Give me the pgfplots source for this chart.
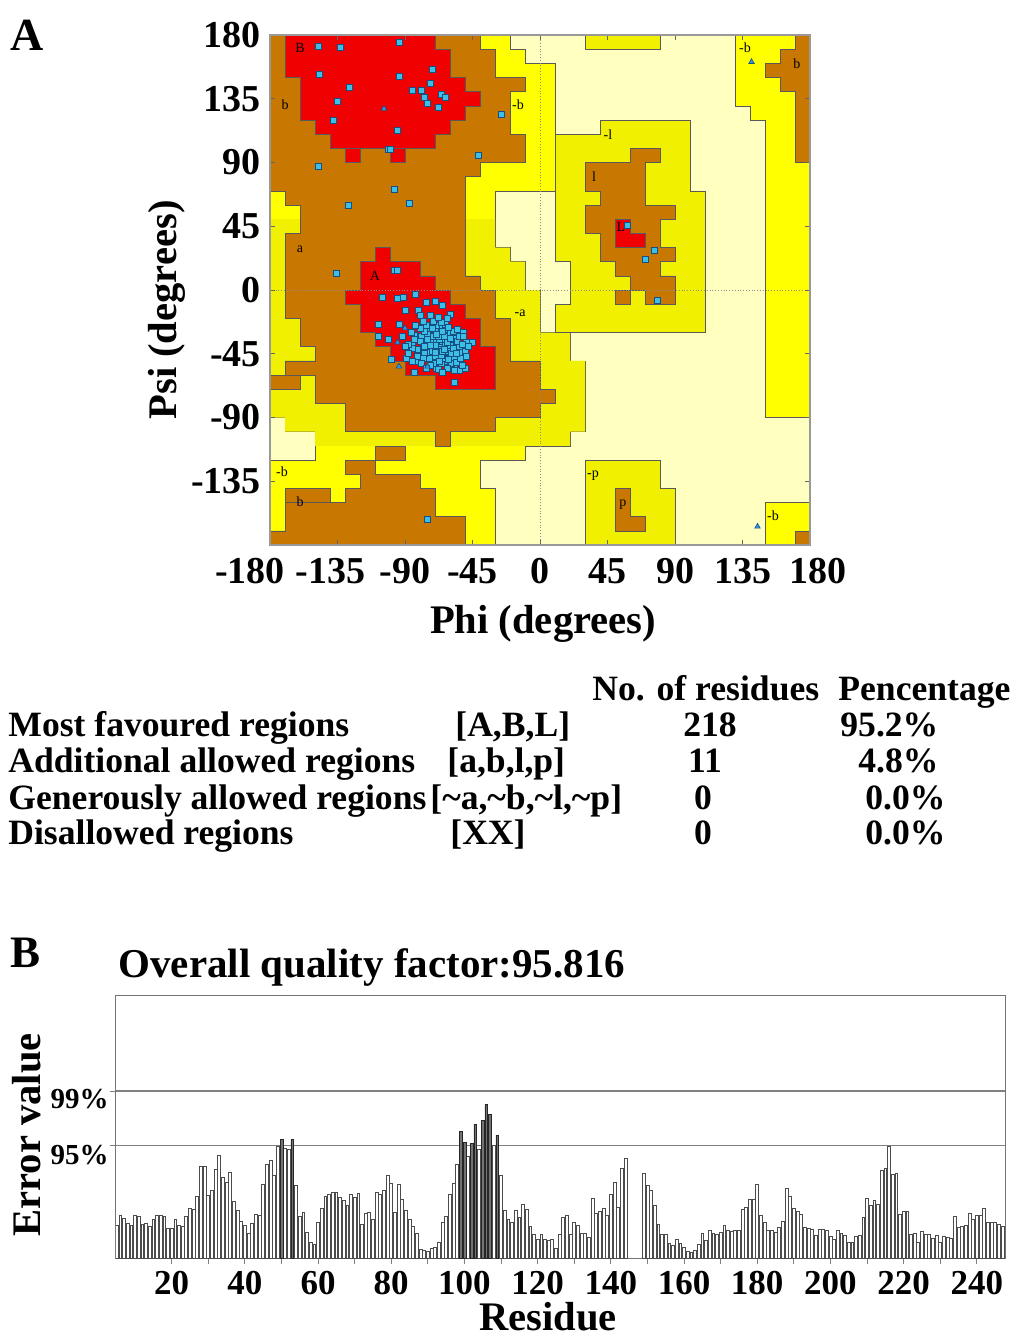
\documentclass[border=0pt]{standalone}
\usepackage{fontspec}
\setmainfont{Liberation Serif}
\usepackage{pgfplots}
\pgfplotsset{compat=1.18}
\definecolor{rlight}{RGB}{255,255,192}
\definecolor{ryel}{RGB}{255,255,0}
\definecolor{rgrn}{RGB}{240,240,0}
\definecolor{rbrn}{RGB}{200,120,0}
\definecolor{rred}{RGB}{240,0,0}
\definecolor{ptfill}{RGB}{60,190,230}
\definecolor{ptedge}{RGB}{20,80,130}
\newcommand{\bfs}[1]{\fontsize{#1}{#1}\selectfont\bfseries}
\pgfplotsset{reg/.style={draw=black!65, line width=0.3pt}}
\tikzset{rlab/.style={font=\fontsize{7}{7}\selectfont, inner sep=0pt}}

\begin{document}
\begin{tikzpicture}
\useasboundingbox (0,0) rectangle (506.5pt,-670pt);

% ---------------- A: Ramachandran plot ----------------
\begin{axis}[
  at={(135pt,-272.5pt)}, anchor=south west,
  width=270pt, height=255pt, scale only axis,
  xmin=-180, xmax=180, ymin=-180, ymax=180,
  axis background/.style={fill=rlight},
  axis line style={draw=black!40, line width=0.6pt},
  xtick={-180,-135,...,180},
  ytick={-135,-90,...,180},
  xticklabels={\hspace*{-20pt}-180,\hspace*{-7pt}-135,-90,-45,0,45,90,135,180\hspace*{-8pt}},
  yticklabels={-135,-90,-45,0,45,90,135,180},
  tick align=inside, major tick length=2.5pt,
  tick style={draw=black!60, line width=0.5pt},
  ticklabel style={font=\bfs{19}},
  xticklabel style={yshift=-3pt},
  yticklabel style={xshift=-1pt},
  axis on top,
]
% generously allowed
\addplot[reg, fill=ryel] coordinates {(-180,180) (-20,180) (-20,170) (-10,170) (-10,160) (10,160) (10,70) (-30,70) (-30,30) (-20,30) (-20,20) (-10,20) (-10,0) (0,0) (0,-30) (20,-30) (20,-50) (30,-50) (30,-100) (20,-100) (20,-110) (-10,-110) (-10,-120) (-40,-120) (-40,-140) (-30,-140) (-30,-180) (-180,-180) (-180,-120) (-150,-120) (-150,-100) (-170,-100) (-170,-90) (-180,-90)} -- cycle;
\addplot[fill=rgrn, draw=none] coordinates {(-180,50) (-30,50) (-30,30) (-20,30) (-20,20) (-10,20) (-10,0) (0,0) (0,-30) (20,-30) (20,-50) (30,-50) (30,-100) (20,-100) (20,-110) (-150,-110) (-150,-100) (-170,-100) (-170,-90) (-180,-90)} -- cycle;
\addplot[reg, fill=ryel] coordinates {(130,180) (180,180) (180,-90) (150,-90) (150,120) (140,120) (140,130) (130,130)} -- cycle;
\addplot[reg, fill=ryel] coordinates {(150,-150) (180,-150) (180,-180) (150,-180)} -- cycle;
\addplot[reg, fill=rgrn] coordinates {(30,180) (80,180) (80,170) (30,170)} -- cycle;
\addplot[reg, fill=rgrn] coordinates {(40,120) (100,120) (100,70) (110,70) (110,-30) (10,-30) (10,-10) (20,-10) (20,20) (10,20) (10,110) (40,110)} -- cycle;
\addplot[reg, fill=rgrn] coordinates {(30,-120) (80,-120) (80,-140) (90,-140) (90,-180) (30,-180)} -- cycle;
% additional allowed
\addplot[reg, fill=rbrn] coordinates {(-180,180) (-40,180) (-40,170) (-30,170) (-30,150) (-10,150) (-10,140) (-20,140) (-20,110) (-10,110) (-10,90) (-40,90) (-40,80) (-50,80) (-50,10) (-40,10) (-40,0) (-30,0) (-30,-20) (-20,-20) (-20,-50) (0,-50) (0,-70) (10,-70) (10,-80) (0,-80) (0,-90) (-30,-90) (-30,-100) (-60,-100) (-60,-110) (-70,-110) (-70,-100) (-130,-100) (-130,-80) (-150,-80) (-150,-60) (-170,-60) (-170,-50) (-150,-50) (-150,-40) (-160,-40) (-160,-20) (-170,-20) (-170,40) (-160,40) (-160,60) (-170,60) (-170,70) (-180,70)} -- cycle;
\addplot[reg, fill=rbrn] coordinates {(-180,-70) (-160,-70) (-160,-60) (-180,-60)} -- cycle;
\addplot[reg, fill=rbrn] coordinates {(-130,-120) (-110,-120) (-110,-130) (-80,-130) (-80,-140) (-70,-140) (-70,-160) (-50,-160) (-50,-180) (-180,-180) (-180,-170) (-170,-170) (-170,-150) (-130,-150) (-130,-140) (-120,-140) (-120,-130) (-130,-130)} -- cycle;
\addplot[reg, fill=rbrn] coordinates {(-110,-120) (-90,-120) (-90,-110) (-110,-110)} -- cycle;
\addplot[reg, fill=rbrn] coordinates {(-170,-150) (-140,-150) (-140,-140) (-170,-140)} -- cycle;
\addplot[reg, fill=rbrn] coordinates {(170,180) (180,180) (180,90) (170,90) (170,140) (160,140) (160,150) (150,150) (150,160) (160,160) (160,170) (170,170)} -- cycle;
\addplot[reg, fill=rbrn] coordinates {(170,-170) (180,-170) (180,-180) (170,-180)} -- cycle;
\addplot[reg, fill=rbrn] coordinates {(60,100) (80,100) (80,90) (70,90) (70,60) (90,60) (90,50) (80,50) (80,30) (90,30) (90,20) (80,20) (80,10) (90,10) (90,-10) (70,-10) (70,0) (60,0) (60,10) (50,10) (50,20) (40,20) (40,40) (30,40) (30,60) (40,60) (40,70) (30,70) (30,90) (60,90)} -- cycle;
\addplot[reg, fill=rbrn] coordinates {(50,-10) (60,-10) (60,0) (50,0)} -- cycle;
\addplot[reg, fill=rbrn] coordinates {(50,-140) (60,-140) (60,-160) (70,-160) (70,-170) (50,-170)} -- cycle;
% most favoured
\addplot[reg, fill=rred] coordinates {(-170,180) (-70,180) (-70,170) (-60,170) (-60,150) (-50,150) (-50,140) (-40,140) (-40,130) (-50,130) (-50,120) (-60,120) (-60,110) (-70,110) (-70,100) (-140,100) (-140,110) (-150,110) (-150,120) (-160,120) (-160,150) (-170,150)} -- cycle;
\addplot[reg, fill=rred] coordinates {(-130,90) (-120,90) (-120,100) (-130,100)} -- cycle;
\addplot[reg, fill=rred] coordinates {(-100,90) (-90,90) (-90,100) (-100,100)} -- cycle;
\addplot[reg, fill=rred] coordinates {(-110,30) (-100,30) (-100,20) (-80,20) (-80,10) (-70,10) (-70,0) (-60,0) (-60,-10) (-50,-10) (-50,-20) (-40,-20) (-40,-40) (-30,-40) (-30,-70) (-70,-70) (-70,-60) (-90,-60) (-90,-50) (-100,-50) (-100,-40) (-110,-40) (-110,-30) (-120,-30) (-120,-10) (-130,-10) (-130,0) (-120,0) (-120,20) (-110,20)} -- cycle;
\addplot[reg, fill=rred] coordinates {(50,50) (60,50) (60,40) (70,40) (70,30) (50,30)} -- cycle;

\draw[black!45, densely dotted, line width=0.4pt] (axis cs:0,-180) -- (axis cs:0,180);
\draw[black!45, densely dotted, line width=0.4pt] (axis cs:-180,0) -- (axis cs:180,0);

\node[rlab] at (axis cs:-160,170.8) {B};
\node[rlab] at (axis cs:-170,130.6) {b};
\node[rlab] at (axis cs:-160,29) {a};
\node[rlab] at (axis cs:-110,9.9) {A};
\node[rlab] at (axis cs:-14.7,130.6) {-b};
\node[rlab] at (axis cs:-13.3,-16.2) {-a};
\node[rlab] at (axis cs:45.3,110) {-l};
\node[rlab] at (axis cs:36,79.8) {l};
\node[rlab] at (axis cs:54,44.5) {L};
\node[rlab] at (axis cs:136.7,170.8) {-b};
\node[rlab] at (axis cs:171.3,159.5) {b};
\node[rlab] at (axis cs:35.3,-131.3) {-p};
\node[rlab] at (axis cs:55.3,-151.8) {p};
\node[rlab] at (axis cs:-172,-128.5) {-b};
\node[rlab] at (axis cs:-160,-149.6) {b};
\node[rlab] at (axis cs:155.3,-159.5) {-b};

% residues
\addplot[only marks, mark=square*, mark size=1.5pt, mark options={fill=ptfill, draw=ptedge, line width=0.3pt}] coordinates {
(-148,172) (-133,171) (-94,175) (-147,152) (-94,151) (-72,156) (-127,143) (-73,146) (-85,141) (-79,141)
(-77,136) (-75,132) (-66,138) (-63,136) (-68,129) (-135,133) (-138,120) (-95,113) (-26,124) (-101,99)
(-100,99) (-41,95) (-148,87) (-97,71) (-128,60) (-87,61) (-136,12) (-97,14) (-95,14) (-75,-162)
(58,46) (76,28) (70,22) (78,-7)
(-105,-5) (-95,-6) (-91,-5) (-83,-3) (-70,-8) (-76,-9) (-90,-14) (-81,-14) (-65,-11) (-108,-24)
(-94,-24) (-60,-17) (-65,-23) (-57,-31) (-51,-30) (-45,-37) (-49,-37) (-108,-33) (-101,-35) (-99,-49)
(-89,-48) (-81,-50) (-84,-58) (-73,-49) (-69,-55) (-62,-54) (-57,-55) (-54,-57) (-50,-55) (-50,-43)
(-57,-65) (-85,-39) (-84,-32)
(-62,-41) (-64,-39) (-66,-42) (-60,-43) (-63,-37) (-68,-38) (-65,-45) (-61,-38) (-67,-40) (-59,-40)
(-64,-44) (-62,-46) (-66,-36) (-70,-41) (-58,-44) (-63,-42) (-65,-40) (-61,-35) (-69,-44) (-60,-47)
(-72,-38) (-67,-47) (-63,-50) (-57,-39) (-66,-33) (-70,-35) (-64,-31) (-59,-36) (-62,-33) (-68,-30)
(-74,-41) (-71,-45) (-56,-42) (-55,-46) (-60,-50) (-65,-48) (-69,-50) (-73,-35) (-75,-44) (-58,-33)
(-62,-28) (-66,-27) (-70,-29) (-72,-31) (-76,-37) (-78,-40) (-64,-35) (-67,-43) (-61,-44) (-63,-47)
(-57,-48) (-54,-40) (-53,-44) (-59,-52) (-66,-52) (-71,-52) (-74,-48) (-77,-45) (-79,-33) (-74,-28)
(-69,-25) (-63,-24) (-60,-30) (-57,-34) (-55,-36) (-52,-38) (-67,-38) (-65,-36) (-63,-39) (-61,-41)
(-68,-42) (-70,-39) (-72,-43) (-64,-48) (-62,-43) (-60,-39) (-66,-46) (-59,-45) (-65,-43) (-67,-35)
(-71,-33) (-75,-31) (-77,-29) (-80,-36) (-82,-42) (-78,-48) (-73,-53) (-68,-56) (-62,-55) (-56,-51)
(-53,-48) (-50,-43) (-54,-33) (-58,-29) (-61,-26) (-66,-23) (-71,-22) (-76,-25) (-80,-27) (-84,-35)
(-85,-41) (-82,-47) (-79,-52) (-70,-47) (-64,-42) (-62,-37) (-68,-33) (-73,-39) (-58,-41) (-56,-45)
(-64,-33) (-60,-34) (-65,-29) (-69,-31) (-72,-27) (-75,-35) (-77,-40) (-61,-49) (-67,-50) (-70,-44)
(-88,-38) (-86,-30) (-83,-25) (-78,-22) (-73,-18) (-68,-19) (-88,-45) (-85,-50) (-76,-55) (-65,-58)
(-57,-57) (-52,-53) (-49,-47) (-48,-40) (-51,-33) (-55,-28) (-62,-20) (-80,-18) (-90,-40) (-92,-33)
};
\addplot[only marks, mark=triangle*, mark size=1.6pt, mark options={fill=ptfill!80!blue, draw=ptedge, line width=0.3pt}] coordinates {
(-104,128) (141,161) (145,-167) (-90,-27) (-95,-37) (-94,-54) (-75,-54)
};
\end{axis}

% ---------------- B: ERRAT plot ----------------
\begin{axis}[
  at={(58pt,-629pt)}, anchor=south west,
  width=444.5pt, height=131.5pt, scale only axis,
  xmin=4.8, xmax=247.7, ymin=0, ymax=263,
  ybar, bar width=0.78,
  axis line style={draw=black!55, line width=0.5pt},
  xtick={20,40,...,240},
  xticklabels={20,40,60,80,100,120,140,160,180,200,220,240},
  minor x tick num=1,
  ytick={112.5,167}, yticklabels={{},{}},
  xtick pos=bottom, ytick pos=left,
  ymajorgrids, grid style={draw=black!50, line width=0.9pt},
  tick align=outside, major tick length=3pt, minor tick length=3pt,
  tick style={draw=black!50, line width=0.4pt},
  xticklabel style={font=\bfs{17.5}},
]
\addplot[fill=white, draw=black!70, line width=0.35pt, bar shift=0pt] coordinates {
(5,32.7) (6,42.3) (7,40) (8,35) (9,32.7) (10,42.7) (11,41.7) (12,33.3) (13,35) (14,31.7)
(15,39) (16,42.3) (17,42.3) (18,41.7) (19,29.3) (20,29.3) (21,38.3) (22,32.7) (23,31.7) (24,41.7)
(25,49.3) (26,48.3) (27,61.7) (28,91.7) (29,91.7) (30,63) (31,67.3) (32,88.3) (33,102.7) (34,80.7)
(35,76) (36,86) (37,56.7) (38,47.3) (39,36.7) (40,32.7) (41,25) (42,35) (43,44) (44,42.3)
(45,73.3) (46,94) (47,97.7) (48,82.7) (49,111.7) (51,110) (52,109) (54,72.7) (55,41.7) (56,46)
(57,26) (58,15.7) (59,13.3) (60,36) (61,49.3) (62,61.7) (63,64) (64,66) (65,65.7) (66,60.7)
(67,58) (68,52.7) (69,64) (70,60.7) (71,64.7) (72,34) (73,45) (74,45.7) (75,39) (76,65.7)
(77,63.3) (78,67.7) (79,82.3) (80,75) (81,45.7) (82,73.3) (83,59) (84,47.7) (85,39) (86,31.7)
(87,25) (88,9) (89,7.7) (90,6.7) (91,10) (92,10.7) (93,15.7) (94,36) (95,41.7) (96,63.3)
(97,75) (98,93.3) (101,102) (104,109) (108,113) (110,83) (111,48) (112,39) (113,36) (114,47.7)
(115,41) (116,53.3) (117,48.3) (118,31.7) (119,24) (120,19) (121,24) (122,19) (123,17.3) (124,18.3)
(125,10) (126,24) (127,41) (128,42.7) (129,24) (130,35.7) (131,32.3) (132,24.3) (133,24.3) (134,20.7)
(135,60) (136,44.3) (137,46.7) (138,50) (139,42.3) (140,63.3) (141,75.7) (142,51) (143,90) (144,99.3)
(149,84.7) (150,73) (151,68) (152,53) (153,33.3) (154,23.3) (155,23.3) (156,15) (157,13) (158,18.3)
(159,15) (160,10.7) (161,6.3) (162,5.7) (163,7.3) (164,14) (165,25) (166,17.3) (167,28) (168,24.7)
(169,24) (170,25.7) (171,32.3) (172,27.3) (173,26.3) (174,27.3) (175,27.3) (176,49) (177,50.7) (178,59)
(179,59) (180,73.7) (181,43) (182,35.7) (183,27.3) (184,27.3) (185,25.7) (186,30.7) (187,36.3) (188,69.7)
(189,61.7) (190,49.7) (191,46.3) (192,44) (193,30.7) (194,29.7) (195,29) (196,23) (197,28.3) (198,29)
(199,28) (200,22) (201,19) (202,28) (203,25) (204,22.7) (205,16) (206,15.7) (207,21.7) (208,22.3)
(209,41) (210,59.3) (211,52.7) (212,57.3) (213,53.3) (214,87.7) (215,90) (216,111.7) (217,84) (218,85)
(219,44) (220,46.7) (221,46.7) (222,24) (223,24.3) (224,15.7) (225,26.7) (226,24) (227,24) (228,19.3)
(229,22.3) (230,16) (231,21.7) (232,20.7) (233,20) (234,41.7) (235,31) (236,31.7) (237,32.7) (238,45)
(239,39) (240,43) (241,42.3) (242,49.3) (243,36) (244,36) (245,36) (246,34) (247,31.7)
};
\addplot[fill=black!55, draw=black!85, line width=0.35pt, bar shift=0pt] coordinates {
(50,119) (53,119) (99,127) (100,116) (102,115) (103,134) (105,138) (106,154) (107,144) (109,123)
};
\end{axis}

% ---------------- text ----------------
\begin{scope}[x=0.5pt,y=-0.5pt]
\node[anchor=base west, font=\bfs{23}, inner sep=0pt] at (10,50) {A};
\node[anchor=base, rotate=90, font=\bfs{20.3}, inner sep=0pt] at (176,310) {Psi (degrees)};
\node[anchor=base, font=\bfs{20.3}, inner sep=0pt] at (543,633) {Phi (degrees)};

\node[anchor=base west, font=\bfs{17.8}, inner sep=0pt] at (592,700) {No. of residues};
\node[anchor=base west, font=\bfs{17.8}, inner sep=0pt] at (838,700) {Pencentage};
\node[anchor=base west, font=\bfs{17.8}, inner sep=0pt] at (8,736) {Most favoured regions};
\node[anchor=base west, font=\bfs{17.8}, inner sep=0pt] at (455,736) {[A,B,L]};
\node[anchor=base, font=\bfs{17.8}, inner sep=0pt] at (710,736) {218};
\node[anchor=base west, font=\bfs{17.8}, inner sep=0pt] at (840,736) {95.2\%};
\node[anchor=base west, font=\bfs{17.8}, inner sep=0pt] at (8,772) {Additional allowed regions};
\node[anchor=base west, font=\bfs{17.8}, inner sep=0pt] at (447,772) {[a,b,l,p]};
\node[anchor=base, font=\bfs{17.8}, inner sep=0pt] at (705,772) {11};
\node[anchor=base west, font=\bfs{17.8}, inner sep=0pt] at (858,772) {4.8\%};
\node[anchor=base west, font=\bfs{17.8}, inner sep=0pt] at (8,809) {Generously allowed regions};
\node[anchor=base west, font=\bfs{17.8}, inner sep=0pt] at (430,809) {[\textasciitilde a,\textasciitilde b,\textasciitilde l,\textasciitilde p]};
\node[anchor=base, font=\bfs{17.8}, inner sep=0pt] at (703,809) {0};
\node[anchor=base west, font=\bfs{17.8}, inner sep=0pt] at (865,809) {0.0\%};
\node[anchor=base west, font=\bfs{17.8}, inner sep=0pt] at (8,844) {Disallowed regions};
\node[anchor=base west, font=\bfs{17.8}, inner sep=0pt] at (450,844) {[XX]};
\node[anchor=base, font=\bfs{17.8}, inner sep=0pt] at (703,844) {0};
\node[anchor=base west, font=\bfs{17.8}, inner sep=0pt] at (865,844) {0.0\%};

\node[anchor=base west, font=\bfs{22.5}, inner sep=0pt] at (10,967) {B};
\node[anchor=base west, font=\bfs{20.5}, inner sep=0pt] at (118,977) {Overall quality factor:95.816};
\node[anchor=base, rotate=90, font=\bfs{20.3}, inner sep=0pt] at (40,1135) {Error value};
\node[anchor=base east, font=\bfs{14.5}, inner sep=0pt] at (109,1108) {99\%};
\node[anchor=base east, font=\bfs{14.5}, inner sep=0pt] at (109,1164) {95\%};
\node[anchor=base, font=\bfs{20.3}, inner sep=0pt] at (548,1330) {Residue};
\end{scope}
\end{tikzpicture}
\end{document}
